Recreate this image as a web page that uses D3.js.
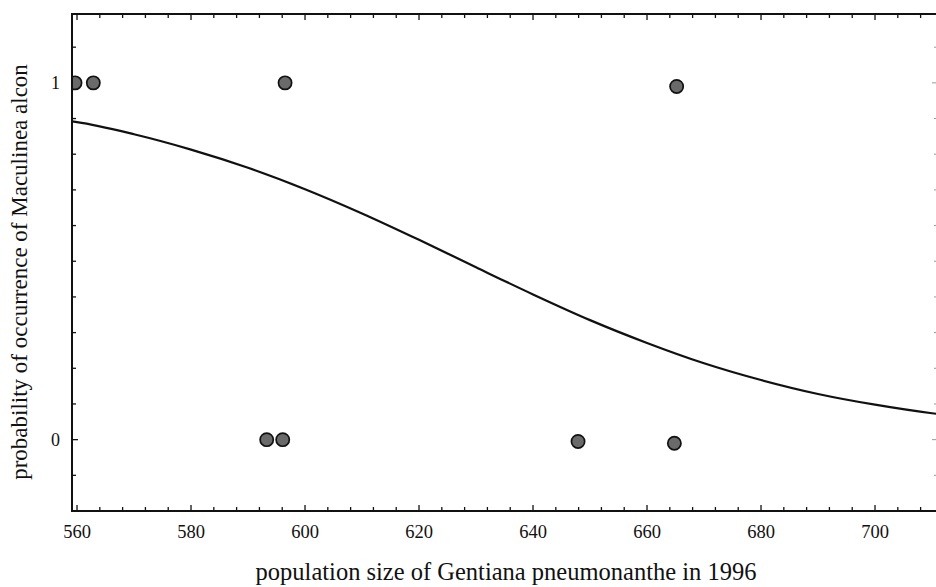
<!DOCTYPE html>
<html><head><meta charset="utf-8">
<script src="https://cdn.jsdelivr.net/npm/d3@7"></script>
<style>
html,body{margin:0;padding:0;background:#fff;}
svg{display:block;}
text{font-family:"Liberation Serif","Times New Roman",serif;fill:#111;}
</style></head>
<body>
<svg id="c" width="936" height="587"></svg>
<script>
// observed occurrences (x = population size, y = presence 1 / absence 0)
const presentX = [559.65, 562.86, 596.5, 665.2];
const presentY = [1, 1, 1, 0.99];
const absentX  = [593.28, 596.09, 647.9, 664.8];
const absentY  = [0, 0, -0.005, -0.01];
// fitted curve (smoothed readings)
const curveX = [559.1, 560, 570, 580, 590, 600, 610, 620, 630, 640, 650, 660, 670, 680, 690, 700, 710, 711];
const curveY = [0.892, 0.890, 0.856, 0.813, 0.762, 0.702, 0.634, 0.560, 0.483, 0.407, 0.335, 0.271, 0.214, 0.167, 0.128, 0.098, 0.074, 0.072];
const xTickLabels = [560, 580, 600, 620, 640, 660, 680, 700];
const yTickLabels = [0, 1];
const xTitle = "population size of Gentiana pneumonanthe in 1996";
const yTitle = "probability of occurrence of Maculinea alcon";

const svg = d3.select("#c");
const L = 72, R = 938, T = 14, B = 511;
const x = d3.scaleLinear().domain([559.12, 711.05]).range([L, R]);
const y = d3.scaleLinear().domain([-0.2, 1.193]).range([B, T]);

svg.append("clipPath").attr("id","clip").append("rect")
  .attr("x", L).attr("y", T).attr("width", R - L).attr("height", B - T);

// minor & major ticks (inside)
const xMinor = d3.range(560, 712, 4);
const yMinor = d3.range(-2, 12).map(d => d / 10);
const g = svg.append("g");
xMinor.forEach(v => {
  const major = (v % 20 === 0);
  const len = major ? 6 : 4;
  g.append("line").attr("x1", x(v)).attr("x2", x(v)).attr("y1", B).attr("y2", B - len).attr("stroke", "#111").attr("stroke-width", 1.3);
  g.append("line").attr("x1", x(v)).attr("x2", x(v)).attr("y1", T).attr("y2", T + len).attr("stroke", "#111").attr("stroke-width", 1.3);
});
yMinor.forEach(v => {
  const major = Math.abs(v - Math.round(v)) < 1e-9;
  const len = major ? 6 : 4;
  g.append("line").attr("y1", y(v)).attr("y2", y(v)).attr("x1", L).attr("x2", L + len).attr("stroke", "#111").attr("stroke-width", 1.3);
  g.append("line").attr("y1", y(v)).attr("y2", y(v)).attr("x1", R).attr("x2", R - len).attr("stroke", "#999").attr("stroke-width", 1);
});

// frame
svg.append("rect").attr("x", L).attr("y", T).attr("width", R - L).attr("height", B - T)
  .attr("fill", "none").attr("stroke", "#111").attr("stroke-width", 2);

// tick labels
svg.append("g").selectAll("text").data(xTickLabels).join("text")
  .attr("x", d => x(d)).attr("y", 538).attr("text-anchor", "middle")
  .attr("font-size", 18.5).text(d => d);
svg.append("g").selectAll("text").data(yTickLabels).join("text")
  .attr("x", 60).attr("y", d => y(d) + 6).attr("text-anchor", "end")
  .attr("font-size", 18).text(d => d);

// axis titles
svg.append("text").attr("x", 506).attr("y", 580).attr("text-anchor", "middle")
  .attr("font-size", 24.5).text(xTitle);
svg.append("text").attr("transform", "translate(27,272) rotate(-90)")
  .attr("text-anchor", "middle").attr("font-size", 23).text(yTitle);

const plot = svg.append("g").attr("clip-path", "url(#clip)");

// fitted curve
const curveData = curveX.map((v, i) => [v, curveY[i]]);
plot.append("path").datum(curveData)
  .attr("d", d3.line().x(d => x(d[0])).y(d => y(d[1])).curve(d3.curveMonotoneX))
  .attr("fill", "none").attr("stroke", "#111").attr("stroke-width", 2.2);

// points
const pts = presentX.map((v, i) => [v, presentY[i]]).concat(absentX.map((v, i) => [v, absentY[i]]));
plot.selectAll("circle").data(pts).join("circle")
  .attr("cx", d => x(d[0])).attr("cy", d => y(d[1])).attr("r", 6.6)
  .attr("fill", "#6a6a6a").attr("stroke", "#111").attr("stroke-width", 1.7);

// redraw left axis line on top of clipped point
svg.append("line").attr("x1", L).attr("x2", L).attr("y1", T).attr("y2", B).attr("stroke", "#111").attr("stroke-width", 2);
</script>
</body></html>
